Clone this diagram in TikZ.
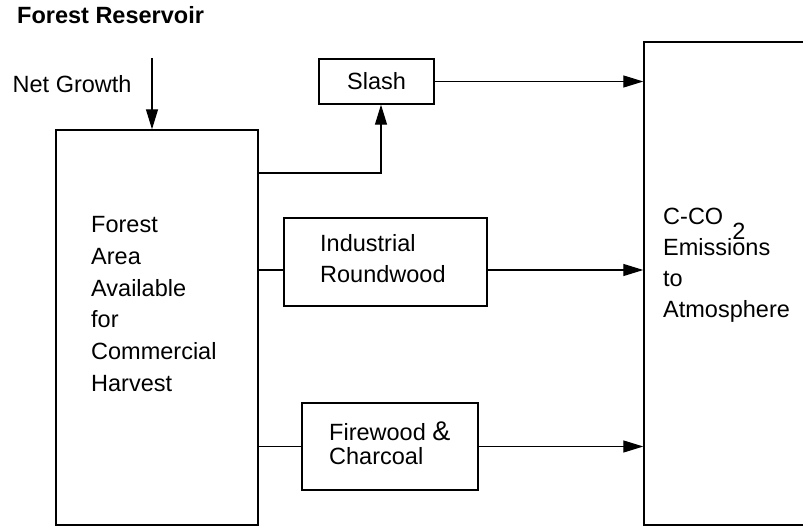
\documentclass[tikz,border=0pt]{standalone}
\usepackage{fontspec}
\setmainfont{Liberation Sans}
\usetikzlibrary{arrows.meta}
\tikzset{flow box/.style={draw,rectangle,line width=1.4pt,inner sep=0pt},
         flow line/.style={line width=1.2pt},
         flow arrow/.style={line width=1.2pt,-{Triangle[length=20pt,width=12pt]}},
         box text/.style={align=left,inner sep=0pt,anchor=north west}}

\begin{document}
\begin{tikzpicture}[x=1pt,y=-1pt,font=\fontsize{23.5}{31.5}\selectfont]
\useasboundingbox (0,0) rectangle (803,526);

\node[anchor=base west,inner sep=0pt,font=\fontsize{23.5}{28}\selectfont\bfseries] (title) at (17,24) {Forest Reservoir};
\node[anchor=base west,inner sep=0pt] (growth) at (12.5,93) {Net Growth};

\node[flow box,minimum width=202pt,minimum height=395pt] (forest) at (157,327.5) {};
\node[flow box,minimum width=176pt,minimum height=483pt] (atmos) at (732,283.5) {};
\node[flow box,minimum width=115pt,minimum height=45pt] (slash) at (376.5,81.5) {Slash};
\node[flow box,minimum width=203pt,minimum height=88pt] (round) at (385.5,262) {};
\node[flow box,minimum width=176pt,minimum height=87pt] (fire) at (390,446.5) {};

\node[box text,font=\fontsize{23.5}{31.8}\selectfont] (foresttext) at (91,216.2)
    {Forest\\Area\\Available\\for\\Commercial\\Harvest};
\node[box text,font=\fontsize{23.5}{31}\selectfont] (roundtext) at (320,234.2)
    {Industrial\\Roundwood};
\node[box text,font=\fontsize{23.5}{23.5}\selectfont] (firetext) at (329,422)
    {Firewood {\fontsize{27}{27}\selectfont\&}\\Charcoal};
\node[box text,font=\fontsize{23.5}{30.8}\selectfont] (atmostext) at (663,208.2)
    {C-CO\hspace{9pt}\smash{\raisebox{-15pt}{2}}\\Emissions\\to\\Atmosphere};

%\draw[flow arrow] (growth) -- (forest);
\coordinate (ng) at (152,58);
\coordinate (forkheight) at (0,173);
\draw[flow arrow] (ng) -- (ng |- forest.north);
\draw[flow arrow] (forest.east |- forkheight) -| ([xshift=4.5pt]slash.south);
\draw[flow arrow] (slash.east) -- (slash.east -| atmos.west);
\draw[flow line] (forest.east |- round.west) ++(0,8) -- ([yshift=-8pt]round.west);
\draw[flow arrow] ([yshift=-8pt]round.east) -- ([yshift=-8pt]round.east -| atmos.west);
\draw[flow line] (forest.east |- fire.west) -- (fire.west);
\draw[flow arrow] (fire.east) -- (fire.east -| atmos.west);

\end{tikzpicture}
\end{document}
